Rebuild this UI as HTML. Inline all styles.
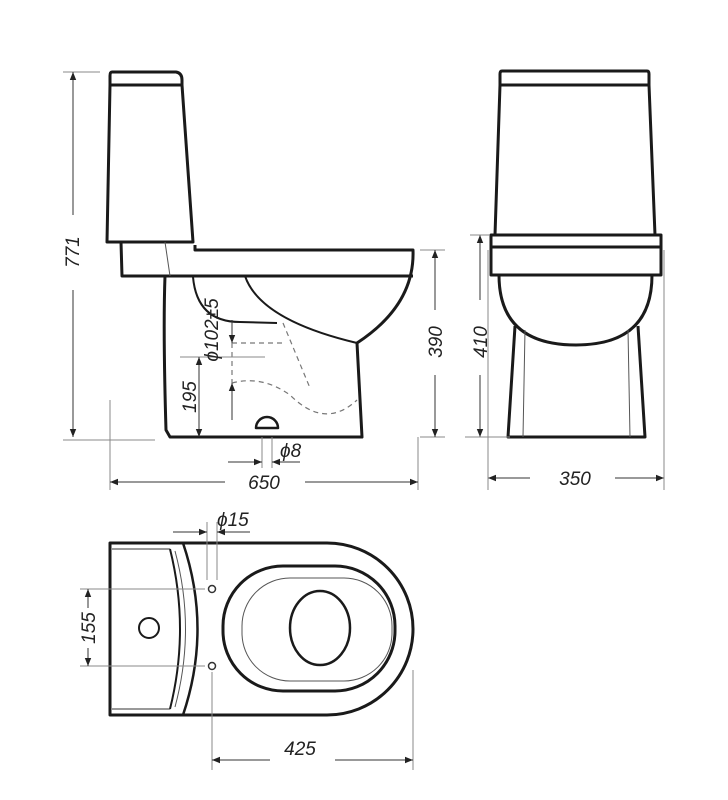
<!DOCTYPE html>
<html><head><style>html,body{margin:0;padding:0;background:#fff}svg{display:block}</style></head>
<body>
<svg width="728" height="800" viewBox="0 0 728 800" xmlns="http://www.w3.org/2000/svg" font-family="Liberation Sans, sans-serif" font-style="italic" font-size="19" fill="none">
<defs>
<marker id="a" viewBox="0 0 10 10" refX="10" refY="5" markerWidth="10" markerHeight="8" orient="auto-start-reverse" markerUnits="userSpaceOnUse"><path d="M0,1 L10,5 L0,9 Z" fill="#222"/></marker>
</defs>
<!-- SIDE VIEW -->
<g stroke="#1a1a1a" stroke-width="3" stroke-linejoin="round">
<path d="M112,72 L176,72 Q182,73 182,80 L182,85 L110,85 L110,76 Q110,72 112,72 Z"/>
<path d="M110,85 L107,242 L193,242 L182,85"/>
<path d="M121,242 L122,276 L195,276 M195,245 L195,250 L413,250 Q415,305 357,343 L362,437 L170,437 L166,430 Q163,330 165,276 L413,276"/>
<path d="M245,276 Q260,320 357,343" stroke-width="2"/>
<path d="M193,277 Q197,322 240,322 L277,323" stroke-width="2"/>
<path d="M256,428 A11,11 0 0 1 278,428 Z" stroke-width="2.5"/>
</g>
<path d="M165,242 L170,276" stroke="#555" stroke-width="1"/>
<g stroke="#777" stroke-width="1.2" stroke-dasharray="5,4">
<path d="M232,343 L285,343 M232,343 L232,383 M283,323 L310,388 M232,383 Q262,375 290,395 Q325,430 357,400"/>
</g>
<g stroke="#888" stroke-width="1">
<path d="M63,72 L100,72 M63,440 L155,440 M180,357 L265,357 M110,400 L110,490 M418,437 L418,490 M262,437 L262,468 M272,437 L272,468 M420,250 L445,250 M420,437 L445,437 M232,320 L232,343"/>
</g>
<g stroke="#333" stroke-width="1">
<line x1="73" y1="290" x2="73" y2="437" marker-end="url(#a)"/>
<line x1="73" y1="215" x2="73" y2="72" marker-end="url(#a)"/>
<line x1="199" y1="400" x2="199" y2="357" marker-end="url(#a)"/>
<line x1="199" y1="400" x2="199" y2="437" marker-end="url(#a)"/>
<line x1="232" y1="320" x2="232" y2="343" marker-end="url(#a)"/>
<line x1="232" y1="420" x2="232" y2="383" marker-end="url(#a)"/>
<line x1="228" y1="462" x2="262" y2="462" marker-end="url(#a)"/>
<line x1="300" y1="462" x2="272" y2="462" marker-end="url(#a)"/>
<line x1="225" y1="482" x2="110" y2="482" marker-end="url(#a)"/>
<line x1="305" y1="482" x2="418" y2="482" marker-end="url(#a)"/>
<line x1="435" y1="310" x2="435" y2="250" marker-end="url(#a)"/>
<line x1="435" y1="375" x2="435" y2="437" marker-end="url(#a)"/>
<line x1="480" y1="300" x2="480" y2="235" marker-end="url(#a)"/>
<line x1="480" y1="375" x2="480" y2="437" marker-end="url(#a)"/>
<line x1="530" y1="478" x2="488" y2="478" marker-end="url(#a)"/>
<line x1="615" y1="478" x2="664" y2="478" marker-end="url(#a)"/>
</g>
<g fill="#222" stroke="none">
<text transform="translate(79,252) rotate(-90)" text-anchor="middle">771</text>
<text transform="translate(196,397) rotate(-90)" text-anchor="middle">195</text>
<text transform="translate(218,330) rotate(-90)" text-anchor="middle">ϕ102±5</text>
<text x="280" y="457">ϕ8</text>
<text x="264" y="489" text-anchor="middle">650</text>
<text transform="translate(442,342) rotate(-90)" text-anchor="middle">390</text>
<text transform="translate(487,342) rotate(-90)" text-anchor="middle">410</text>
<text x="575" y="485" text-anchor="middle">350</text>
<text x="217" y="526">ϕ15</text>
<text transform="translate(95,628) rotate(-90)" text-anchor="middle">155</text>
<text x="300" y="755" text-anchor="middle">425</text>
</g>
<!-- FRONT VIEW -->
<g stroke="#1a1a1a" stroke-width="3" stroke-linejoin="round">
<path d="M502,71 L647,71 Q649,71 649,74 L649,85 L500,85 L500,74 Q500,71 502,71 Z"/>
<path d="M500,85 L495,235 M649,85 L655,235"/>
<rect x="491" y="235" width="170" height="12"/>
<rect x="491" y="247" width="170" height="28"/>
<path d="M499,275 Q499,345 576,345 Q652,345 652,275"/>
<path d="M515,326 L508,437 L645,437 L638,326"/>
</g>
<path d="M525,330 L523,437 M628,330 L630,437" stroke="#555" stroke-width="1"/>
<path d="M488,250 L488,490 M664,250 L664,490 M465,437 L510,437 M470,235 L490,235" stroke="#888" stroke-width="1"/>
<!-- TOP VIEW -->
<g stroke="#1a1a1a" stroke-width="3" stroke-linejoin="round">
<path d="M110,543 L327,543 A86,86 0 0 1 327,715 L110,715 Z"/>
<path d="M183,543 Q212,629 183,715" stroke-width="2.5"/>
<path d="M170,549 Q190,629 170,709" stroke-width="2"/>
<rect x="223" y="566" width="172" height="125" rx="60" ry="60"/>
<ellipse cx="320" cy="628" rx="30" ry="37" stroke-width="2.5"/>
<circle cx="149" cy="628" r="10" stroke-width="2"/>
</g>
<path d="M112,549 L170,549 M112,709 L170,709" stroke="#333" stroke-width="1"/>
<path d="M175,551 Q196,629 175,707" stroke="#555" stroke-width="1"/>
<rect x="242" y="578" width="150" height="103" rx="48" ry="48" stroke="#555" stroke-width="1"/>
<circle cx="212" cy="589" r="3.5" stroke="#333" stroke-width="1.5"/>
<circle cx="212" cy="666" r="3.5" stroke="#333" stroke-width="1.5"/>
<g stroke="#888" stroke-width="1">
<path d="M80,589 L205,589 M80,666 L205,666 M207,522 L207,580 M217,522 L217,580 M212,672 L212,770 M413,670 L413,770"/>
</g>
<g stroke="#333" stroke-width="1">
<line x1="173" y1="532" x2="207" y2="532" marker-end="url(#a)"/>
<line x1="250" y1="532" x2="217" y2="532" marker-end="url(#a)"/>
<line x1="88" y1="608" x2="88" y2="589" marker-end="url(#a)"/>
<line x1="88" y1="648" x2="88" y2="666" marker-end="url(#a)"/>
<line x1="270" y1="760" x2="212" y2="760" marker-end="url(#a)"/>
<line x1="335" y1="760" x2="413" y2="760" marker-end="url(#a)"/>
</g>
</svg>
</body></html>
